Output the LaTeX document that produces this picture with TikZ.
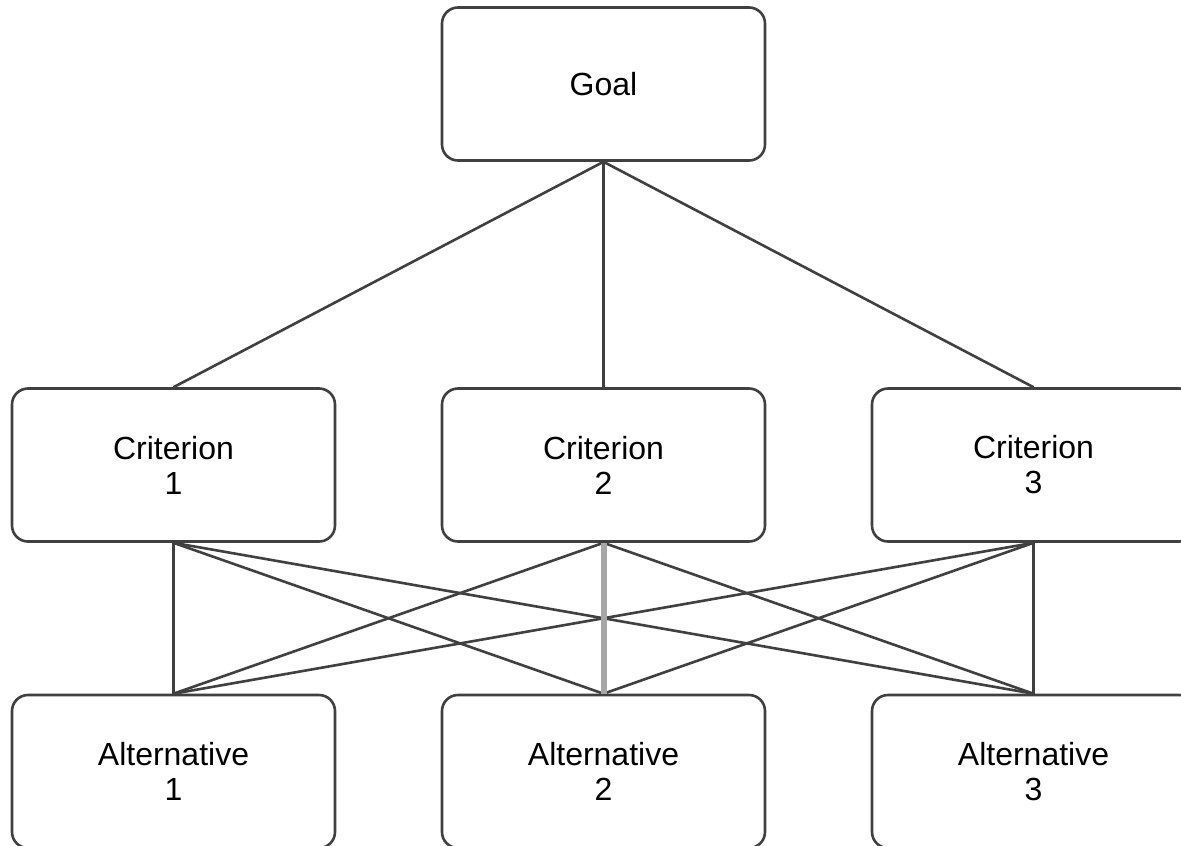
\documentclass[tikz,border=0pt]{standalone}
\usepackage{fontspec}
\setmainfont{Liberation Sans}
\begin{document}
\begin{tikzpicture}[x=1pt,y=-1pt,
  box/.style={draw=edgegray, line width=2.6pt, rounded corners=16pt, fill=white,
    minimum width=323pt, minimum height=153pt, inner sep=0pt, align=center,
    font=\fontsize{32pt}{35pt}\selectfont, text=black},
  link/.style={draw=edgegray, line width=2.6pt},
  softlink/.style={draw=softgray, line width=6pt}]
\definecolor{edgegray}{HTML}{404040}
\definecolor{softgray}{HTML}{A6A6A6}
\useasboundingbox (0,0) rectangle (1181,846);
\fill[white] (0,0) rectangle (1181,846);

% hierarchy levels
\node[box] (goal) at (603.5,84) {Goal};
\node[box] (c1) at (173.5,465) {Criterion\\1};
\node[box] (c2) at (603.5,465) {Criterion\\2};
\node[box] (c3) at (1033.5,465) {Criterion\\3};
\node[box] (a1) at (173.5,771.5) {Alternative\\1};
\node[box] (a2) at (603.5,771.5) {Alternative\\2};
\node[box] (a3) at (1033.5,771.5) {Alternative\\3};

% goal to criteria
\foreach \c in {c1,c2,c3} \draw[link] (goal.south) -- (\c.north);

% criteria to alternatives
\foreach \c in {c1,c2,c3} {
  \foreach \a in {a1,a2,a3} {
    \draw[link] (\c.south) -- (\a.north);
  }
}
\draw[softlink] (c2.south) -- (a2.north);
\end{tikzpicture}
\end{document}
